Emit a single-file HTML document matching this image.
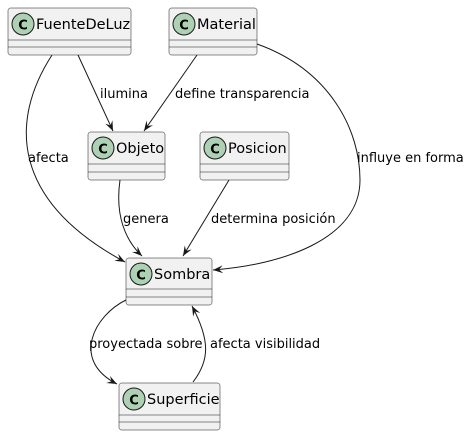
<!DOCTYPE html>
<html><head><meta charset="utf-8"><style>
html,body{margin:0;padding:0;background:#fff;width:474px;height:436px;overflow:hidden}
text{font-family:"DejaVu Sans","Liberation Sans",sans-serif;font-size:13px;fill:#000}
.n{font-size:14.5px}
</style></head><body>
<svg width="474" height="436" viewBox="0 0 474 436" xmlns="http://www.w3.org/2000/svg">
<defs>
<marker id="a" markerWidth="12" markerHeight="10" refX="10" refY="4" orient="auto" markerUnits="userSpaceOnUse">
<path d="M0,0 L10,4 L0,8 L4,4 Z" fill="#181818"/>
</marker>
</defs>
<g fill="none" stroke="#181818" stroke-width="1">
<path d="M78,55 L113,131" marker-end="url(#a)"/>
<path d="M52,55 C10,120 10,200 125,262" marker-end="url(#a)"/>
<path d="M197,55 L144,131" marker-end="url(#a)"/>
<path d="M257,44 C330,70 360,130 360,180 C360,240 280,265 213,270" marker-end="url(#a)"/>
<path d="M120,180 C115,215 125,240 142,256" marker-end="url(#a)"/>
<path d="M229,180 L183,256" marker-end="url(#a)"/>
<path d="M126,300 C95,315 70,360 117,384" marker-end="url(#a)"/>
<path d="M193,382 C210,360 210,340 192,306" marker-end="url(#a)"/>
</g>
<g stroke="#181818" stroke-width="0.5" fill="#F1F1F1">
<rect x="8" y="8" width="123" height="47" rx="2.5"/>
<rect x="169" y="8" width="88" height="47" rx="2.5"/>
<rect x="88" y="132" width="77" height="48" rx="2.5"/>
<rect x="200" y="132" width="89" height="48" rx="2.5"/>
<rect x="126" y="258" width="86" height="47" rx="2.5"/>
<rect x="119" y="383" width="101" height="47" rx="2.5"/>
</g>
<g stroke="#181818" stroke-width="0.5">
<line x1="8" y1="40" x2="131" y2="40"/><line x1="8" y1="47" x2="131" y2="47"/>
<line x1="169" y1="40" x2="257" y2="40"/><line x1="169" y1="47" x2="257" y2="47"/>
<line x1="88" y1="164" x2="165" y2="164"/><line x1="88" y1="172" x2="165" y2="172"/>
<line x1="200" y1="164" x2="289" y2="164"/><line x1="200" y1="172" x2="289" y2="172"/>
<line x1="126" y1="289" x2="212" y2="289"/><line x1="126" y1="297" x2="212" y2="297"/>
<line x1="119" y1="415" x2="220" y2="415"/><line x1="119" y1="422" x2="220" y2="422"/>
</g>
<g fill="#ADD1B2" stroke="#181818" stroke-width="1">
<circle cx="23" cy="24" r="11"/><circle cx="184" cy="24" r="11"/>
<circle cx="103" cy="148" r="11"/><circle cx="215" cy="148" r="11"/>
<circle cx="141" cy="274" r="11"/><circle cx="134" cy="399" r="11"/>
</g>
<g style="font-weight:bold;font-size:15px" text-anchor="middle">
<text x="23" y="29.5">C</text><text x="184" y="29.5">C</text>
<text x="103" y="153.5">C</text><text x="215" y="153.5">C</text>
<text x="141" y="279.5">C</text><text x="134" y="404.5">C</text>
</g>
<text class="n" x="36" y="29">FuenteDeLuz</text>
<text class="n" x="197" y="29">Material</text>
<text class="n" x="116" y="153">Objeto</text>
<text class="n" x="228" y="153">Posicion</text>
<text class="n" x="154" y="279">Sombra</text>
<text class="n" x="147" y="404">Superficie</text>
<text x="100" y="98">ilumina</text>
<text x="175" y="98">define transparencia</text>
<text x="28" y="162">afecta</text>
<text x="357" y="162">influye en forma</text>
<text x="123" y="223">genera</text>
<text x="211" y="223">determina posición</text>
<text x="89" y="348">proyectada sobre</text>
<text x="210" y="348">afecta visibilidad</text>
</svg>
</body></html>
